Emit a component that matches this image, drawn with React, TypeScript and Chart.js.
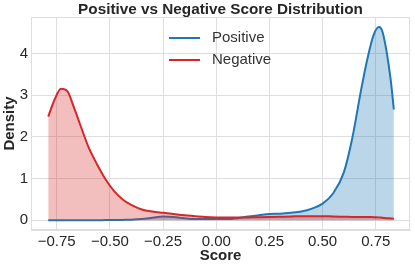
import React, { useEffect, useRef } from "react";
import { Chart, registerables } from "chart.js";

Chart.register(...registerables);

const titleText = "Positive vs Negative Score Distribution";
const seriesLabels = ["Positive", "Negative"];
const xAxisLabel = "Score";
const yAxisLabel = "Density";

const scoreGrid = [
  -0.79, -0.76, -0.73, -0.7, -0.67, -0.64, -0.6, -0.56, -0.52, -0.48, -0.44, -0.4,
  -0.35, -0.3, -0.25, -0.2, -0.15, -0.1, -0.05, 0.0, 0.05, 0.1, 0.15, 0.2, 0.25,
  0.3, 0.35, 0.4, 0.45, 0.5, 0.55, 0.6, 0.64, 0.68, 0.71, 0.74, 0.765, 0.78, 0.8,
  0.82, 0.835,
];

const positiveDensity = [
  0.0, 0.0, 0.0, 0.0, 0.0, 0.0, 0.0, 0.0, 0.005, 0.005, 0.01, 0.015,
  0.03, 0.06, 0.09, 0.08, 0.05, 0.03, 0.03, 0.03, 0.03, 0.05, 0.09, 0.12, 0.15,
  0.16, 0.18, 0.21, 0.28, 0.4, 0.65, 1.15, 1.98, 3.1, 3.86, 4.45, 4.64, 4.55, 4.08,
  3.38, 2.66,
];

const negativeDensity = [
  2.49, 2.9, 3.16, 3.1, 2.72, 2.3, 1.75, 1.34, 0.98, 0.7, 0.5, 0.37,
  0.26, 0.21, 0.18, 0.15, 0.12, 0.1, 0.08, 0.07, 0.065, 0.065, 0.07, 0.075, 0.08,
  0.085, 0.09, 0.1, 0.1, 0.1, 0.09, 0.085, 0.08, 0.08, 0.08, 0.075, 0.07, 0.06, 0.05,
  0.045, 0.04,
];

const xTicks = [-0.75, -0.5, -0.25, 0.0, 0.25, 0.5, 0.75];
const yTicks = [0, 1, 2, 3, 4];

const FONT = "'Liberation Sans', Arial, sans-serif";
const GRID = "#dedede";
const TEXT = "#262626";
const BLUE = "#1f77b4";
const RED = "#d62728";

const decorPlugin = {
  id: "decor",
  beforeDatasetsDraw(chart: any) {
    const { ctx, chartArea } = chart;
    ctx.save();
    ctx.strokeStyle = GRID;
    ctx.lineWidth = 1;
    ctx.strokeRect(chartArea.left + 0.5, chartArea.top + 0.5, chartArea.right - chartArea.left - 1, chartArea.bottom - chartArea.top - 1);
    ctx.restore();
  },
  afterDraw(chart: any) {
    const { ctx, chartArea } = chart;
    ctx.save();
    ctx.font = `bold 15.3px ${FONT}`;
    ctx.fillStyle = TEXT;
    ctx.textAlign = "center";
    ctx.textBaseline = "middle";
    ctx.fillText(titleText, (chartArea.left + chartArea.right) / 2, 9.5);
    const colors = [BLUE, RED];
    ctx.font = `15px ${FONT}`;
    ctx.textAlign = "left";
    seriesLabels.forEach((label, i) => {
      const y = 38 + i * 22;
      ctx.strokeStyle = colors[i];
      ctx.lineWidth = 2;
      ctx.beginPath();
      ctx.moveTo(169, y);
      ctx.lineTo(200, y);
      ctx.stroke();
      ctx.fillStyle = "#333333";
      ctx.fillText(label, 212, y);
    });
    ctx.restore();
  },
};

function fmtX(v: number) {
  const s = Math.abs(v).toFixed(2);
  return v < 0 ? "\u2212" + s : s;
}

export default function App() {
  const ref = useRef<HTMLCanvasElement | null>(null);

  useEffect(() => {
    if (!ref.current) return;
    const chart = new Chart(ref.current, {
      type: "line",
      data: {
        datasets: [
          {
            label: seriesLabels[0],
            data: scoreGrid.map((x, i) => ({ x, y: positiveDensity[i] })),
            borderColor: BLUE,
            backgroundColor: "rgba(31,119,180,0.3)",
            fill: "origin",
            pointRadius: 0,
            borderWidth: 2,
            cubicInterpolationMode: "monotone",
            order: 1,
          },
          {
            label: seriesLabels[1],
            data: scoreGrid.map((x, i) => ({ x, y: negativeDensity[i] })),
            borderColor: RED,
            backgroundColor: "rgba(214,39,40,0.3)",
            fill: "origin",
            pointRadius: 0,
            borderWidth: 2,
            cubicInterpolationMode: "monotone",
            order: 0,
          },
        ],
      },
      options: {
        animation: false,
        responsive: false,
        devicePixelRatio: 1,
        layout: { padding: { top: 17, right: 5, left: 0, bottom: 0 } },
        plugins: {
          legend: { display: false },
          tooltip: { enabled: false },
          title: { display: false },
        },
        scales: {
          x: {
            type: "linear",
            min: -0.871,
            max: 0.911,
            afterBuildTicks: (s: any) => {
              s.ticks = xTicks.map((v) => ({ value: v }));
            },
            afterFit: (s: any) => {
              s.height = 37;
            },
            ticks: {
              autoSkip: false,
              maxRotation: 0,
              padding: 3,
              color: TEXT,
              font: { family: FONT, size: 15 },
              callback: (v: any) => fmtX(Number(v)),
            },
            grid: { color: GRID, drawTicks: false },
            border: { display: true, color: GRID },
            title: {
              display: true,
              text: xAxisLabel,
              color: TEXT,
              font: { family: FONT, size: 15, weight: "bold" },
              padding: { top: 0, bottom: 2 },
            },
          },
          y: {
            type: "linear",
            min: -0.233,
            max: 4.88,
            afterBuildTicks: (s: any) => {
              s.ticks = yTicks.map((v) => ({ value: v }));
            },
            afterFit: (s: any) => {
              s.width = 31;
            },
            ticks: {
              padding: 3,
              color: TEXT,
              font: { family: FONT, size: 15 },
              callback: (v: any) => String(v),
            },
            grid: { color: GRID, drawTicks: false },
            border: { display: true, color: GRID },
            title: {
              display: true,
              text: yAxisLabel,
              color: TEXT,
              font: { family: FONT, size: 15, weight: "bold" },
              padding: { top: 1, bottom: 0 },
            },
          },
        },
      },
      plugins: [decorPlugin],
    });
    return () => chart.destroy();
  }, []);

  return (
    <div style={{ position: "absolute", left: 0, top: 0, width: 415, height: 267, background: "#fff" }}>
      <canvas ref={ref} width={415} height={267} style={{ display: "block" }} />
    </div>
  );
}
